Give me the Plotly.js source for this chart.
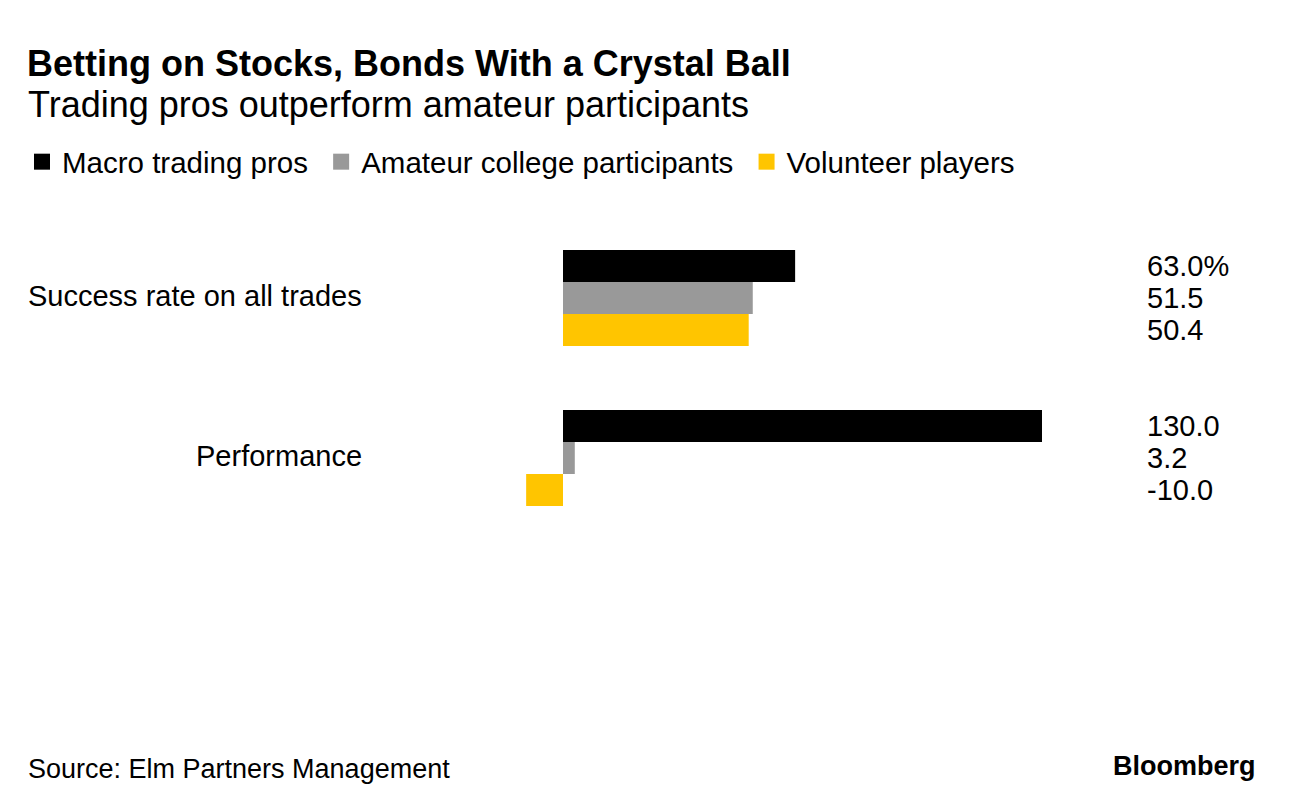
<!DOCTYPE html>
<html>
<head>
<meta charset="utf-8">
<script src="https://cdn.plot.ly/plotly-3.0.1.min.js"></script>
<style>html,body{margin:0;padding:0;background:#fff;}#chart{width:1296px;height:810px;}</style>
</head>
<body>
<div id="chart"></div>
<script>
const categories = ['Success rate on all trades', 'Performance'];
const seriesNames = ['Macro trading pros', 'Amateur college participants', 'Volunteer players'];
const macroPros = [63.0, 130.0];
const amateurCollege = [51.5, 3.2];
const volunteers = [50.4, -10.0];
const seriesColors = ['#000000', '#999999', '#ffc500'];

const FONT = 'Liberation Sans, Arial, sans-serif';
const seriesValues = [macroPros, amateurCollege, volunteers];

const W = 1296, H = 810;
const L = 0, R = 0, T = 218, B = 272;
const plotW = W - L - R, plotH = H - T - B;
const zeroPx = 563, pxPerUnit = 479 / 130;
const xRange = [-(zeroPx - L) / pxPerUnit, (W - R - zeroPx) / pxPerUnit];
const py = (pix) => (H - B - pix) / plotH;
const px = (pix) => (pix - L) / plotW;

const traces = [];
seriesValues.forEach((vals, j) => {
  traces.push({
    type: 'bar', orientation: 'h', name: seriesNames[j],
    y: categories, x: vals,
    marker: {color: seriesColors[j]},
    showlegend: false, hoverinfo: 'none'
  });
});
seriesValues.forEach((vals, j) => {
  traces.push({
    type: 'scatter', mode: 'markers',
    name: seriesNames[j] + (j < seriesNames.length - 1 ? '\u00a0' : ''),
    x: [null], y: [null],
    marker: {symbol: 'square', size: 19, color: seriesColors[j]},
    showlegend: true, hoverinfo: 'none'
  });
});

const annotations = [];
categories.forEach((c, i) => {
  annotations.push({
    xref: 'paper', yref: 'y', x: px(364), y: c,
    yshift: 2,
    xanchor: 'right', yanchor: 'middle', showarrow: false,
    text: c,
    font: {family: FONT, size: 29, color: '#000'}
  });
  seriesValues.forEach((vals, j) => {
    annotations.push({
      xref: 'paper', yref: 'y', x: px(1145), y: c,
      yshift: (1 - j) * 32,
      xanchor: 'left', yanchor: 'middle', showarrow: false,
      text: vals[i].toFixed(1) + (i === 0 && j === 0 ? '%' : ''),
      font: {family: FONT, size: 29, color: '#000'}
    });
  });
});
annotations.push({
  xref: 'paper', yref: 'paper', x: px(26), y: py(104),
  xanchor: 'left', yanchor: 'middle', showarrow: false,
  text: 'Trading pros outperform amateur participants',
  font: {family: FONT, size: 36, color: '#000'}
});
annotations.push({
  xref: 'paper', yref: 'paper', x: px(26), y: py(769),
  xanchor: 'left', yanchor: 'middle', showarrow: false,
  text: 'Source: Elm Partners Management',
  font: {family: FONT, size: 27, color: '#000'}
});
annotations.push({
  xref: 'paper', yref: 'paper', x: px(1258), y: py(766),
  xanchor: 'right', yanchor: 'middle', showarrow: false,
  text: '<b>Bloomberg</b>',
  font: {family: FONT, size: 27, color: '#000'}
});

const layout = {
  width: W, height: H,
  margin: {l: L, r: R, t: T, b: B, pad: 0},
  paper_bgcolor: '#fff', plot_bgcolor: '#fff',
  font: {family: FONT, color: '#000'},
  title: {
    text: '<b>Betting on Stocks, Bonds With a Crystal Ball</b>',
    font: {family: FONT, size: 36, color: '#000'},
    x: 27 / W, xref: 'container', xanchor: 'left',
    y: 1 - 51 / H, yref: 'container', yanchor: 'top'
  },
  barmode: 'group', bargap: 0.4, bargroupgap: 0,
  showlegend: true,
  legend: {
    orientation: 'h', xref: 'container', yref: 'container',
    x: 22 / W, y: 1 - 136 / H, xanchor: 'left', yanchor: 'top',
    font: {family: FONT, size: 29.5, color: '#000'},
    traceorder: 'normal', itemclick: false, itemdoubleclick: false
  },
  xaxis: {range: xRange, visible: false, fixedrange: true},
  yaxis: {
    type: 'category', autorange: 'reversed', visible: false, fixedrange: true
  },
  annotations: annotations
};

Plotly.newPlot('chart', traces, layout, {displayModeBar: false, staticPlot: true});
</script>
</body>
</html>
